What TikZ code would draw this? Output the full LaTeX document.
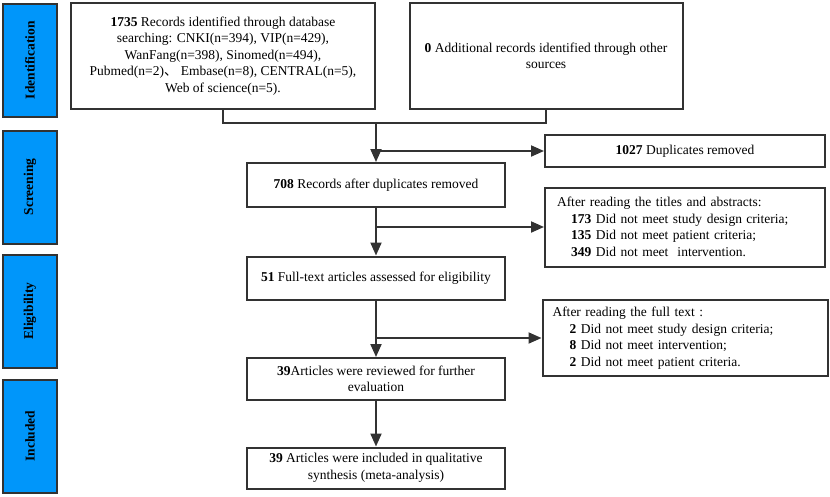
\documentclass[tikz,border=0pt]{standalone}
\usepackage{fontspec}
\setmainfont{Liberation Serif}
\newfontfamily\cjk{Noto Sans CJK SC}
\usetikzlibrary{arrows.meta}
\definecolor{stageblue}{RGB}{0,150,250}
\definecolor{linegray}{RGB}{50,50,50}

\begin{document}
\begin{tikzpicture}[x=1pt, y=-1pt,
        stagebox/.style={rectangle, draw=linegray, fill=stageblue, line width=2pt, rotate=90, minimum width=113pt, minimum height=54pt, font=\fontsize{13.5}{15}\selectfont\bfseries},
        mainbox/.style={rectangle, draw=linegray, line width=2pt, align=center, inner sep=2pt, font=\fontsize{13.5}{16.5}\selectfont},
        sidebox/.style={rectangle, draw=linegray, line width=2pt, align=left, inner ysep=2pt, font=\fontsize{13.5}{16.5}\selectfont},
        arrow/.style={-{Triangle[length=13pt, width=11pt]}, draw=linegray, line width=2pt},
        link/.style={draw=linegray, line width=2pt},
    ]
        \useasboundingbox (0,0) rectangle (830,496);

        %Stages
        \node[stagebox] (ident) at (30,60) {Identification};
        \node[stagebox] (screen) at (30,187) {Screening};
        \node[stagebox] (elig) at (30,311) {Eligibility};
        \node[stagebox] (incl) at (30,436) {Included};

        %Nodes
        \node[mainbox, minimum width=304pt, minimum height=106pt] (search) at (223,56) {\textbf{1735} Records identified through database\\searching: CNKI(n=394), VIP(n=429),\\WanFang(n=398), Sinomed(n=494),\\Pubmed(n=2){\cjk 、} Embase(n=8), CENTRAL(n=5),\\Web of science(n=5).};
        \node[mainbox, minimum width=273pt, minimum height=106pt] (other) at (546,56) {\textbf{0} Additional records identified through other\\sources};

        \coordinate (join) at (376,123);

        \node[mainbox, minimum width=258pt, minimum height=44pt] (rec) at (376,185) {\textbf{708} Records after duplicates removed};
        \node[mainbox, minimum width=280pt, minimum height=32pt] (dup) at (685,151) {\textbf{1027} Duplicates removed};
        \node[sidebox, text width=256pt, inner xsep=12pt, minimum height=79pt] (tiab) at (685,227) {After reading the titles and abstracts:\\
            \hspace*{14pt}\textbf{173} Did not meet study design criteria;\\
            \hspace*{14pt}\textbf{135} Did not meet patient criteria;\\
            \hspace*{14pt}\textbf{349} Did not meet\ \ intervention.};

        \node[mainbox, minimum width=258pt, minimum height=43pt] (full) at (376,278) {\textbf{51} Full-text articles assessed for eligibility};
        \node[sidebox, text width=265pt, inner xsep=10pt, minimum height=76pt] (ftex) at (685,338) {After reading the full text :\\
            \hspace*{17pt}\textbf{2} Did not meet study design criteria;\\
            \hspace*{17pt}\textbf{8} Did not meet intervention;\\
            \hspace*{17pt}\textbf{2} Did not meet patient criteria.};

        \node[mainbox, minimum width=258pt, minimum height=42pt] (rev) at (376,379) {\textbf{39}Articles were reviewed for further\\evaluation};
        \node[mainbox, minimum width=258pt, minimum height=41pt] (final) at (376,468) {\textbf{39} Articles were included in qualitative\\synthesis (meta-analysis)};

        %Lines
        \draw[link] (search.south) |- (join) -| (other.south);
        \draw[arrow] (join) -- (rec);
        \draw[arrow] (dup.west -| join) -- (dup.west);

        \draw[arrow] (rec) -- (full);
        \draw[arrow] (tiab.west -| rec.south) -- (tiab.west);

        \draw[arrow] (full) -- (rev);
        \draw[arrow] (ftex.west -| full.south) -- (ftex.west);

        \draw[arrow] (rev) -- (final);
    \end{tikzpicture}
\end{document}
